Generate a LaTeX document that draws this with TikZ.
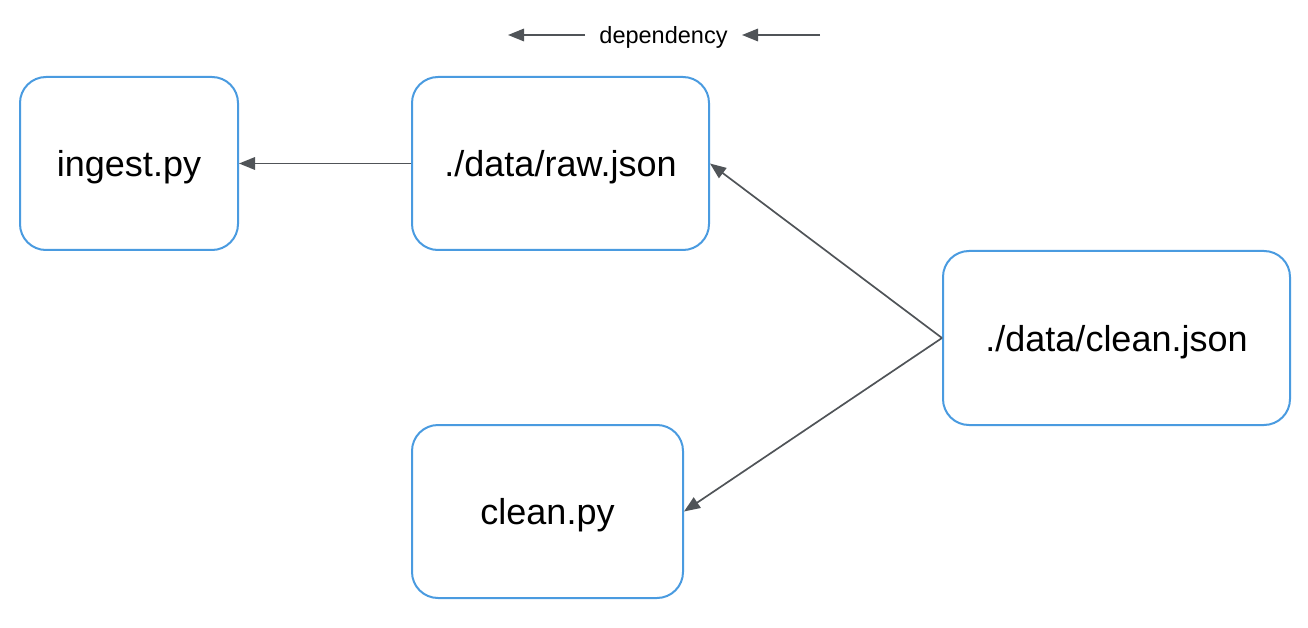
\documentclass[tikz,border=0pt]{standalone}
\usepackage{fontspec}
\setmainfont{Liberation Sans}
\usetikzlibrary{arrows.meta}
\definecolor{boxblue}{HTML}{4A9BE0}
\definecolor{arrowgray}{HTML}{505458}
\tikzset{
  filebox/.style={draw=boxblue, line width=2pt, rounded corners=26pt, inner sep=0pt,
    font=\fontsize{36}{43}\selectfont, text=black, text height=26pt, text depth=0pt},
  dep/.style={draw=arrowgray, line width=1.7pt, -{Triangle[length=16pt,width=12.5pt]}},
  legendtext/.style={font=\fontsize{23.5}{28}\selectfont, text=black, inner sep=0pt}
}
\begin{document}
\begin{tikzpicture}[x=1pt,y=-1pt]
\useasboundingbox (0,0) rectangle (1308,628);
\node[filebox, minimum width=218pt, minimum height=173pt] (ingest) at (129,163.5) {ingest.py};
\node[filebox, minimum width=297pt, minimum height=173pt] (raw) at (560.5,163.5) {./data/raw.json};
\node[filebox, minimum width=347pt, minimum height=174pt] (cleanjson) at (1116.5,338) {./data/clean.json};
\node[filebox, minimum width=271pt, minimum height=173pt] (cleanpy) at (547.5,511.5) {clean.py};
\draw[dep] (raw.west) -- (ingest.east);
\draw[dep] (cleanjson.west) -- (raw.east);
\draw[dep] (cleanjson.west) -- (cleanpy.east);
% legend
\node[legendtext] (legend) at (663.5,37.5) {dependency};
\coordinate (l1s) at (585,35);
\coordinate (l1e) at (508,35);
\coordinate (l2s) at (820,35);
\coordinate (l2e) at (742,35);
\draw[dep] (l1s) -- (l1e);
\draw[dep] (l2s) -- (l2e);
\end{tikzpicture}
\end{document}
